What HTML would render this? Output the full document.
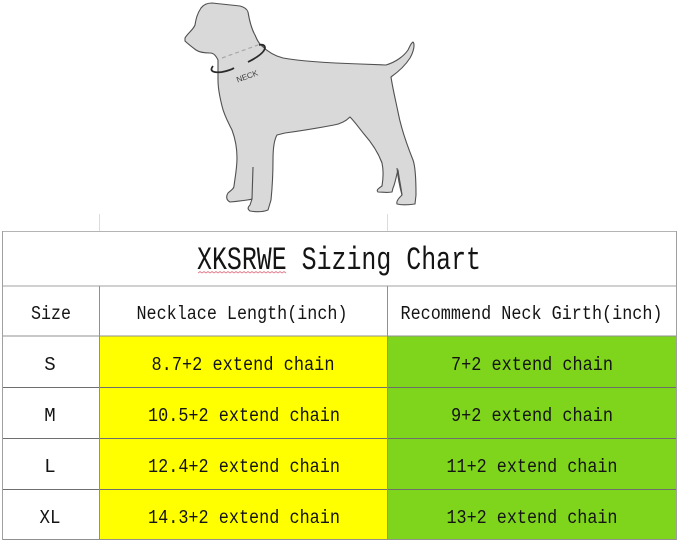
<!DOCTYPE html>
<html>
<head>
<meta charset="utf-8">
<style>
  html, body { margin: 0; padding: 0; background: #ffffff; }
  body { width: 679px; height: 544px; overflow: hidden; position: relative; }
  svg { position: absolute; left: 0; top: 0; }
  text { font-family: "Liberation Mono", "Noto Sans CJK SC", monospace; fill: #141414; }
</style>
</head>
<body>
<svg width="679" height="544" viewBox="0 0 679 544" xmlns="http://www.w3.org/2000/svg">
  <!-- Dog silhouette -->
  <path d="M185,38
    C188,33 193,30 195,25
    C196,19 197,14 201,8
    C204,4 208,3 212,3
    C220,4 232,5 240,6
    C244,7 247,9 248,12
    C249,18 251,28 255,35
    C257,40 259,44 262,46
    C268,52 275,56 283,58
    C300,61 330,63 360,64
    L386,65
    C396,62 404,56 408,50
    C410,46 411,43 413,42
    C415,44 414,51 410,58
    C405,66 398,72 391,77
    C393,90 396,102 398,112
    C401,128 407,145 413,160
    C416,168 416,185 416,195
    L415,204
    C408,205 401,205 397,204
    C396,201 399,198 402,195
    C401,187 399,178 398,170
    C396,177 395,184 393,188
    L392,192
    C387,193 382,192 378,192
    C376,190 378,189 382,186
    C383,180 384,172 382,163
    C378,152 371,142 364,134
    C359,128 355,122 350,117
    C346,121 340,124 334,125
    C318,128 300,131 285,133
    L277,135
    C274,140 273,150 273,160
    C273,175 272,190 271,200
    L268,210
    C263,212 256,212 250,211
    C247,209 248,207 250,205
    L252,199
    C250,200 240,201 230,202
    C226,200 226,196 228,193
    C231,190 234,189 234,186
    C235,178 237,168 237,158
    C237,148 235,138 232,130
    C228,122 224,115 222,106
    C220,98 218,88 218,80
    L218,60
    C216,56 214,53 210,53
    C204,53 199,52 196,50
    C192,47 188,44 185,41 Z"
    fill="#d9d9d9" stroke="#505050" stroke-width="1.1" stroke-linejoin="round"/>
  <path d="M253,167 L252,199" fill="none" stroke="#505050" stroke-width="1.1"/>
  <path d="M397,168 C398,178 400,188 402,195" fill="none" stroke="#505050" stroke-width="1.1"/>
  <!-- dashed neck line -->
  <path d="M222,58 L258,45" fill="none" stroke="#a8a8a8" stroke-width="1.2" stroke-dasharray="4,3"/>
  <!-- collar -->
  <path d="M213,66 C209,71 213,73 222,72 C227,71 231,70 234,68" fill="none" stroke="#2a2a2a" stroke-width="1.8"/>
  <path d="M248,62 C256,58 264,53 265,48 C265,45 262,44 259,45" fill="none" stroke="#2a2a2a" stroke-width="1.8"/>
  <text x="247" y="79" font-size="8" text-anchor="middle" transform="rotate(-20 247 76)" style="font-family:'Liberation Sans',sans-serif;fill:#3a3a3a">NECK</text>

  <!-- faint gridlines above table -->
  <line x1="99.5" y1="214" x2="99.5" y2="231" stroke="#dcdcdc" stroke-width="1"/>
  <line x1="387.5" y1="214" x2="387.5" y2="231" stroke="#dcdcdc" stroke-width="1"/>

  <!-- cell fills -->
  <rect x="100" y="336" width="287" height="203" fill="#ffff00"/>
  <rect x="388" y="336" width="288" height="203" fill="#7fd41c"/>

  <!-- horizontal lines -->
  <line x1="2" y1="231.5" x2="677" y2="231.5" stroke="#b4b4b4" stroke-width="1"/>
  <line x1="2" y1="286" x2="677" y2="286" stroke="#a0a0a0" stroke-width="1"/>
  <line x1="2" y1="336" x2="677" y2="336" stroke="#909090" stroke-width="1"/>
  <line x1="2" y1="387.5" x2="677" y2="387.5" stroke="#6e6e6e" stroke-width="1"/>
  <line x1="2" y1="438.5" x2="677" y2="438.5" stroke="#6e6e6e" stroke-width="1"/>
  <line x1="2" y1="489.5" x2="677" y2="489.5" stroke="#6e6e6e" stroke-width="1"/>
  <line x1="2" y1="539.5" x2="677" y2="539.5" stroke="#909090" stroke-width="1"/>

  <!-- vertical lines -->
  <line x1="2.5" y1="231" x2="2.5" y2="540" stroke="#a0a0a0" stroke-width="1"/>
  <line x1="99.5" y1="286" x2="99.5" y2="540" stroke="#909090" stroke-width="1"/>
  <line x1="387.5" y1="286" x2="387.5" y2="540" stroke="#909090" stroke-width="1"/>
  <line x1="676.5" y1="231" x2="676.5" y2="540" stroke="#a0a0a0" stroke-width="1"/>

  <!-- title -->
  <text x="339" y="269" font-size="32" text-anchor="middle" textLength="284" lengthAdjust="spacingAndGlyphs">XKSRWE Sizing Chart</text>
  <polyline points="198,273 200,271.5 202,273 204,271.5 206,273 208,271.5 210,273 212,271.5 214,273 216,271.5 218,273 220,271.5 222,273 224,271.5 226,273 228,271.5 230,273 232,271.5 234,273 236,271.5 238,273 240,271.5 242,273 244,271.5 246,273 248,271.5 250,273 252,271.5 254,273 256,271.5 258,273 260,271.5 262,273 264,271.5 266,273 268,271.5 270,273 272,271.5 274,273 276,271.5 278,273 280,271.5 282,273 284,271.5 286,273" fill="none" stroke="#e07a8a" stroke-width="0.8"/>

  <!-- header row -->
  <text x="51" y="319" font-size="19" text-anchor="middle" textLength="40" lengthAdjust="spacingAndGlyphs">Size</text>
  <text x="242" y="319" font-size="19" text-anchor="middle" textLength="211" lengthAdjust="spacingAndGlyphs">Necklace Length(inch)</text>
  <text x="531.5" y="319" font-size="19" text-anchor="middle" textLength="262" lengthAdjust="spacingAndGlyphs">Recommend Neck Girth(inch)</text>

  <!-- rows -->
  <text x="50" y="370" font-size="19" text-anchor="middle">S</text>
  <text x="243" y="370" font-size="19" text-anchor="middle" textLength="183" lengthAdjust="spacingAndGlyphs">8.7+2 extend chain</text>
  <text x="532" y="370" font-size="19" text-anchor="middle" textLength="162" lengthAdjust="spacingAndGlyphs">7+2 extend chain</text>

  <text x="50" y="421" font-size="19" text-anchor="middle">M</text>
  <text x="244" y="421" font-size="19" text-anchor="middle" textLength="192" lengthAdjust="spacingAndGlyphs">10.5+2 extend chain</text>
  <text x="532" y="421" font-size="19" text-anchor="middle" textLength="162" lengthAdjust="spacingAndGlyphs">9+2 extend chain</text>

  <text x="50" y="472" font-size="19" text-anchor="middle">L</text>
  <text x="244" y="472" font-size="19" text-anchor="middle" textLength="192" lengthAdjust="spacingAndGlyphs">12.4+2 extend chain</text>
  <text x="532" y="472" font-size="19" text-anchor="middle" textLength="171" lengthAdjust="spacingAndGlyphs">11+2 extend chain</text>

  <text x="50" y="523" font-size="19" text-anchor="middle" textLength="21" lengthAdjust="spacingAndGlyphs">XL</text>
  <text x="244" y="523" font-size="19" text-anchor="middle" textLength="192" lengthAdjust="spacingAndGlyphs">14.3+2 extend chain</text>
  <text x="532" y="523" font-size="19" text-anchor="middle" textLength="171" lengthAdjust="spacingAndGlyphs">13+2 extend chain</text>
</svg>
</body>
</html>
